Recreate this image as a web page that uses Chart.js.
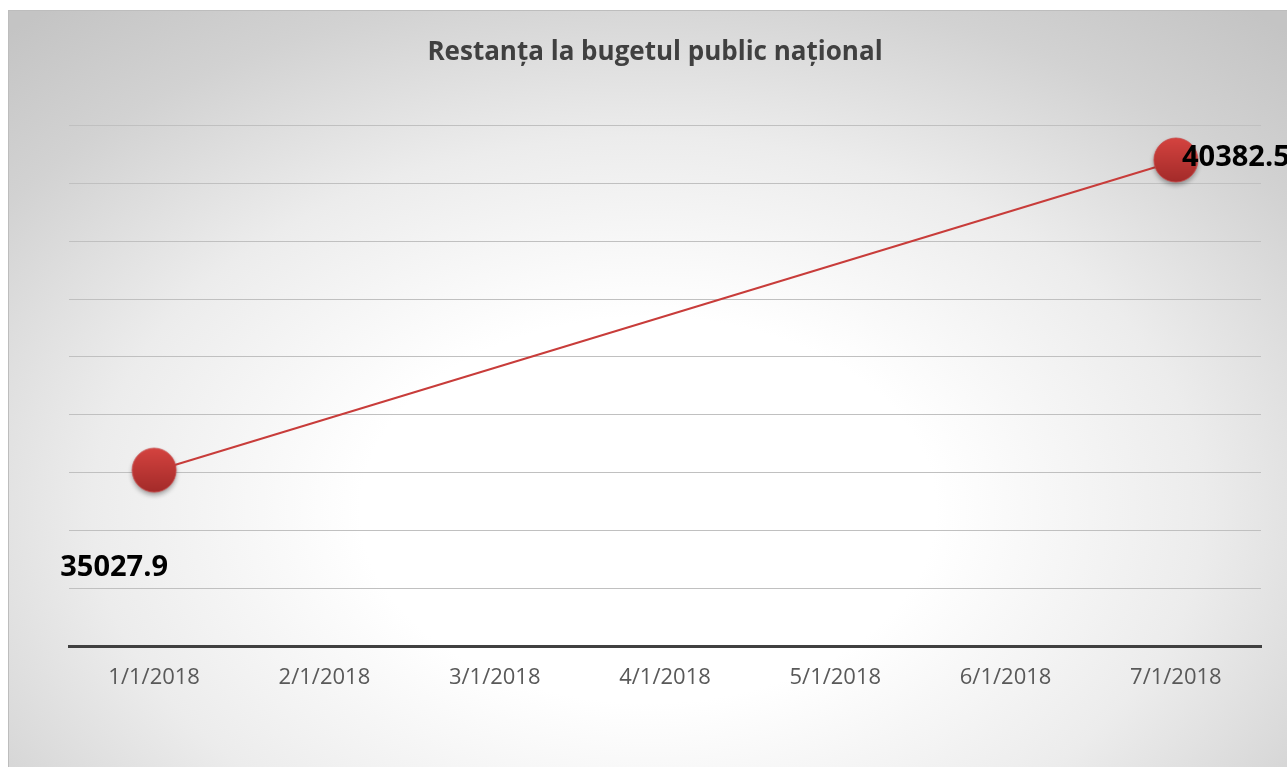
<!DOCTYPE html>
<html>
<head>
<meta charset="utf-8">
<script src="https://cdn.jsdelivr.net/npm/chart.js@4"></script>
<style>
  body { margin: 0; background: #fff; }
  #frame {
    position: absolute; left: 8px; top: 10px; width: 1279px; height: 757px;
    box-sizing: border-box; border: 1px solid #bdbdbd; border-right: none; border-bottom: none;
    background: radial-gradient(ellipse 75% 85% at 50% 66%, #ffffff 0%, #ffffff 30%, #ececec 58%, #d2d2d2 82%, #c4c4c4 100%);
  }
  #wrap { position: absolute; left: 0; top: 0; width: 1278px; height: 756px; }
</style>
</head>
<body>
<div id="frame"><div id="wrap"><canvas id="chart"></canvas></div></div>
<script>
// date categorii (axa X) si valori
const luni = ["1/1/2018", "2/1/2018", "3/1/2018", "4/1/2018", "5/1/2018", "6/1/2018", "7/1/2018"];
const restanta = [35027.9, null, null, null, null, null, 40382.5];
const titlu = "Restanța la bugetul public național";

// bila rosie pentru marker
function buildMarker() {
    const c = document.createElement("canvas");
    c.width = 60;
    c.height = 60;
    const g = c.getContext("2d");
    g.shadowColor = "rgba(0,0,0,0.35)";
    g.shadowBlur = 5;
    g.shadowOffsetY = 3;
    const grad = g.createLinearGradient(0, 7, 0, 52);
    grad.addColorStop(0, "#d4433f");
    grad.addColorStop(1, "#a22a29");
    g.fillStyle = grad;
    g.beginPath();
    g.arc(30, 29, 22, 0, Math.PI * 2);
    g.fill();
    g.shadowColor = "transparent";
    g.strokeStyle = "rgba(200,70,70,0.8)";
    g.lineWidth = 1;
    g.stroke();
    return c;
}

// etichete de date (pozitionate ca in Excel)
const labelOffsets = [[-40, 97], [60, -3]];
const dataLabels = {
    id: "dataLabels",
    afterDatasetsDraw(chart) {
        const ctx = chart.ctx;
        const meta = chart.getDatasetMeta(0);
        let k = 0;
        ctx.save();
        ctx.font = "bold 29px 'Open Sans'";
        ctx.fillStyle = "#000";
        ctx.textAlign = "center";
        ctx.textBaseline = "middle";
        meta.data.forEach((pt, i) => {
            const v = restanta[i];
            if (v === null) return;
            const off = labelOffsets[k++];
            ctx.fillText(v.toFixed(1), pt.x + off[0], pt.y + off[1]);
        });
        ctx.restore();
    },
};

const ctx = document.getElementById("chart");
new Chart(ctx, {
    type: "line",
    data: {
        labels: luni,
        datasets: [
            {
                data: restanta,
                borderColor: "#c83c3a",
                borderWidth: 2,
                spanGaps: true,
                pointStyle: buildMarker(),
                pointRadius: 22,
            },
        ],
    },
    options: {
        responsive: true,
        maintainAspectRatio: false,
        animation: false,
        layout: { padding: { left: 40, right: 26, top: 0, bottom: 66 } },
        plugins: {
            legend: { display: false },
            tooltip: { enabled: false },
            title: {
                display: true,
                text: titlu,
                color: "#404040",
                font: { family: "Open Sans", size: 26, weight: "bold" },
                padding: { top: 26, bottom: 57 },
            },
        },
        scales: {
            x: {
                offset: true,
                grid: { display: false },
                border: { color: "#404040", width: 3 },
                ticks: { color: "#595959", font: { family: "Open Sans", size: 22 }, padding: 10, maxRotation: 0 },
            },
            y: {
                min: 32000,
                max: 41000,
                afterFit: (scale) => { scale.width = 20; },
                ticks: { display: false, stepSize: 1000 },
                border: { display: false },
                grid: { color: "#c0c0c0", lineWidth: 1, drawTicks: false },
            },
        },
    },
    plugins: [dataLabels],
});
</script>
</body>
</html>
